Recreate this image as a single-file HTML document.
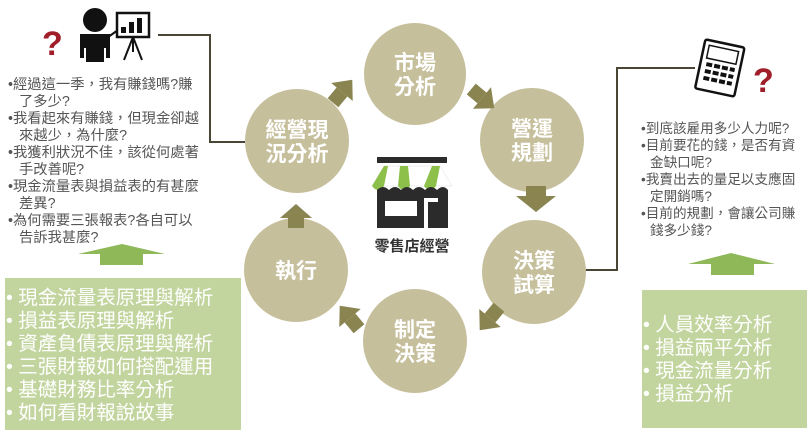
<!DOCTYPE html>
<html><head><meta charset="utf-8"><style>
body{margin:0;width:812px;height:435px;background:#fff;overflow:hidden;font-family:"Liberation Sans","Noto Sans CJK TC",sans-serif}
</style></head><body>
<svg width="812" height="435" viewBox="0 0 812 435" xmlns="http://www.w3.org/2000/svg" font-family="Liberation Sans, Noto Sans CJK TC, sans-serif">
<polyline points="158,35 210,35 210,142 245,142" fill="none" stroke="#4a4636" stroke-width="2"/>
<polyline points="695,68 617,68 617,270 585,270" fill="none" stroke="#4a4636" stroke-width="2"/>
<g fill="#c6bf9c">
<circle cx="415" cy="74" r="51"/>
<circle cx="532" cy="140" r="52"/>
<circle cx="534" cy="272" r="52"/>
<circle cx="415" cy="341" r="52"/>
<circle cx="296" cy="270" r="52"/>
<circle cx="297" cy="141" r="52"/>
</g>
<g fill="#fff" font-size="21" font-weight="bold" text-anchor="middle">
<text x="415" y="70">市場</text><text x="415" y="94">分析</text>
<text x="532" y="136">營運</text><text x="532" y="160">規劃</text>
<text x="534" y="268">決策</text><text x="534" y="292">試算</text>
<text x="415" y="337">制定</text><text x="415" y="361">決策</text>
<text x="296" y="278">執行</text>
<text x="297" y="137">經營現</text><text x="297" y="161">況分析</text>
</g>
<g fill="#8a8450">
<polygon points="280,218 312,218 296,204" /><rect x="288" y="218" width="16" height="10"/>
<polygon points="516,196 556,196 536,212"/><rect x="526" y="186" width="20" height="10"/>
<g transform="translate(342,92) rotate(40)"><polygon points="-14,0 14,0 0,-16"/><rect x="-7" y="0" width="14" height="14"/></g>
<g transform="translate(482,98) rotate(130)"><polygon points="-14,0 14,0 0,-16"/><rect x="-7" y="0" width="14" height="14"/></g>
<g transform="translate(490,318) rotate(220)"><polygon points="-14,0 14,0 0,-16"/><rect x="-7" y="0" width="14" height="14"/></g>
<g transform="translate(350,318) rotate(-40)"><polygon points="-14,0 14,0 0,-16"/><rect x="-7" y="0" width="14" height="14"/></g>
</g>
<rect x="377" y="157" width="70" height="6" fill="#2b2b2b"/>
<path d="M372,186 L384,166 L440,166 L452,186 Z" fill="#fff" stroke="#ddd" stroke-width="0.5"/>
<path d="M372,186 q6,8 12,0 L388,166 L384,166 Z" fill="#8dc04a"/>
<path d="M398,186 q6,8 12,0 L408,166 L400,166 Z" fill="#8dc04a"/>
<path d="M424,186 q6,8 12,0 L440,166 L432,166 Z" fill="#8dc04a"/>
<path d="M377,190 q6,-6 12,0 q6,-6 12,0 q6,-6 12,0 q6,-6 12,0 q6,-6 12,0 q6,-6 11,0 L448,228 L377,228 Z" fill="#2b2b2b"/>
<rect x="385" y="201" width="32" height="15" fill="#fff"/>
<rect x="424" y="198" width="14" height="30" fill="#fff"/>
<rect x="428" y="202" width="10" height="26" fill="#2b2b2b"/>
<text x="412" y="251" font-size="15" font-weight="bold" fill="#333" text-anchor="middle">零售店經營</text>
<text x="42" y="55" font-size="34" font-weight="bold" fill="#a01e2a">?</text>
<circle cx="95" cy="20" r="12" fill="#111"/>
<path d="M80,34 h30 v24 h-4 v-10 h-22 v10 h-4 Z" fill="#111"/>
<rect x="86" y="48" width="18" height="14" fill="#111"/>
<line x1="104" y1="40" x2="118" y2="30" stroke="#111" stroke-width="2"/>
<rect x="117" y="13" width="32" height="24" fill="#fff" stroke="#111" stroke-width="2.5"/>
<rect x="121" y="27" width="5" height="6" fill="#111"/><rect x="129" y="22" width="5" height="11" fill="#111"/><rect x="137" y="18" width="5" height="15" fill="#111"/>
<line x1="133" y1="37" x2="124" y2="60" stroke="#111" stroke-width="2"/><line x1="133" y1="37" x2="142" y2="60" stroke="#111" stroke-width="2"/><line x1="133" y1="37" x2="133" y2="52" stroke="#111" stroke-width="2"/>
<g font-size="14.3" fill="#555">
<text x="8" y="89">•經過這一季，我有賺錢嗎?賺</text>
<text x="19" y="106">了多少?</text>
<text x="8" y="123">•我看起來有賺錢，但現金卻越</text>
<text x="19" y="140">來越少，為什麼?</text>
<text x="8" y="157">•我獲利狀況不佳，該從何處著</text>
<text x="19" y="174">手改善呢?</text>
<text x="8" y="191">•現金流量表與損益表的有甚麼</text>
<text x="19" y="208">差異?</text>
<text x="8" y="225">•為何需要三張報表?各自可以</text>
<text x="19" y="242">告訴我甚麼?</text>
</g>
<polygon points="78,254 122,244 165,254" fill="#8fb858"/><rect x="100" y="254" width="43" height="11" fill="#8fb858"/>
<rect x="5" y="278" width="236" height="152" fill="#c3d59f"/>
<g font-size="19.5" fill="#fff">
<text x="6" y="304">• 現金流量表原理與解析</text>
<text x="6" y="327">• 損益表原理與解析</text>
<text x="6" y="350">• 資產負債表原理與解析</text>
<text x="6" y="373">• 三張財報如何搭配運用</text>
<text x="6" y="396">• 基礎財務比率分析</text>
<text x="6" y="419">• 如何看財報說故事</text>
</g>
<g transform="translate(720,67) rotate(12)">
<rect x="-20" y="-24" width="40" height="50" rx="2" fill="#fff" stroke="#111" stroke-width="2.5"/>
<rect x="-15" y="-19" width="30" height="13" fill="#fff" stroke="#111" stroke-width="1.5"/>
<g fill="#111"><rect x="-14" y="-2" width="6" height="4"/><rect x="-6" y="-2" width="6" height="4"/><rect x="2" y="-2" width="6" height="4"/><rect x="10" y="-2" width="5" height="4"/>
<rect x="-14" y="5" width="6" height="4"/><rect x="-6" y="5" width="6" height="4"/><rect x="2" y="5" width="6" height="4"/><rect x="10" y="5" width="5" height="4"/>
<rect x="-14" y="12" width="6" height="4"/><rect x="-6" y="12" width="6" height="4"/><rect x="2" y="12" width="6" height="4"/><rect x="10" y="12" width="5" height="4"/></g>
</g>
<text x="753" y="92" font-size="34" font-weight="bold" fill="#a01e2a">?</text>
<g font-size="13.6" fill="#555">
<text x="641" y="133">•到底該雇用多少人力呢?</text>
<text x="641" y="150">•目前要花的錢，是否有資</text>
<text x="650" y="167">金缺口呢?</text>
<text x="641" y="184">•我賣出去的量足以支應固</text>
<text x="650" y="201">定開銷嗎?</text>
<text x="641" y="218">•目前的規劃，會讓公司賺</text>
<text x="650" y="235">錢多少錢?</text>
</g>
<polygon points="688,264 731,253 775,264" fill="#8fb858"/><rect x="711" y="264" width="43" height="11" fill="#8fb858"/>
<rect x="642" y="290" width="165" height="138" fill="#c3d59f"/>
<g font-size="19.5" fill="#fff">
<text x="643" y="331">• 人員效率分析</text>
<text x="643" y="354">• 損益兩平分析</text>
<text x="643" y="377">• 現金流量分析</text>
<text x="643" y="400">• 損益分析</text>
</g>
</svg>
</body></html>
